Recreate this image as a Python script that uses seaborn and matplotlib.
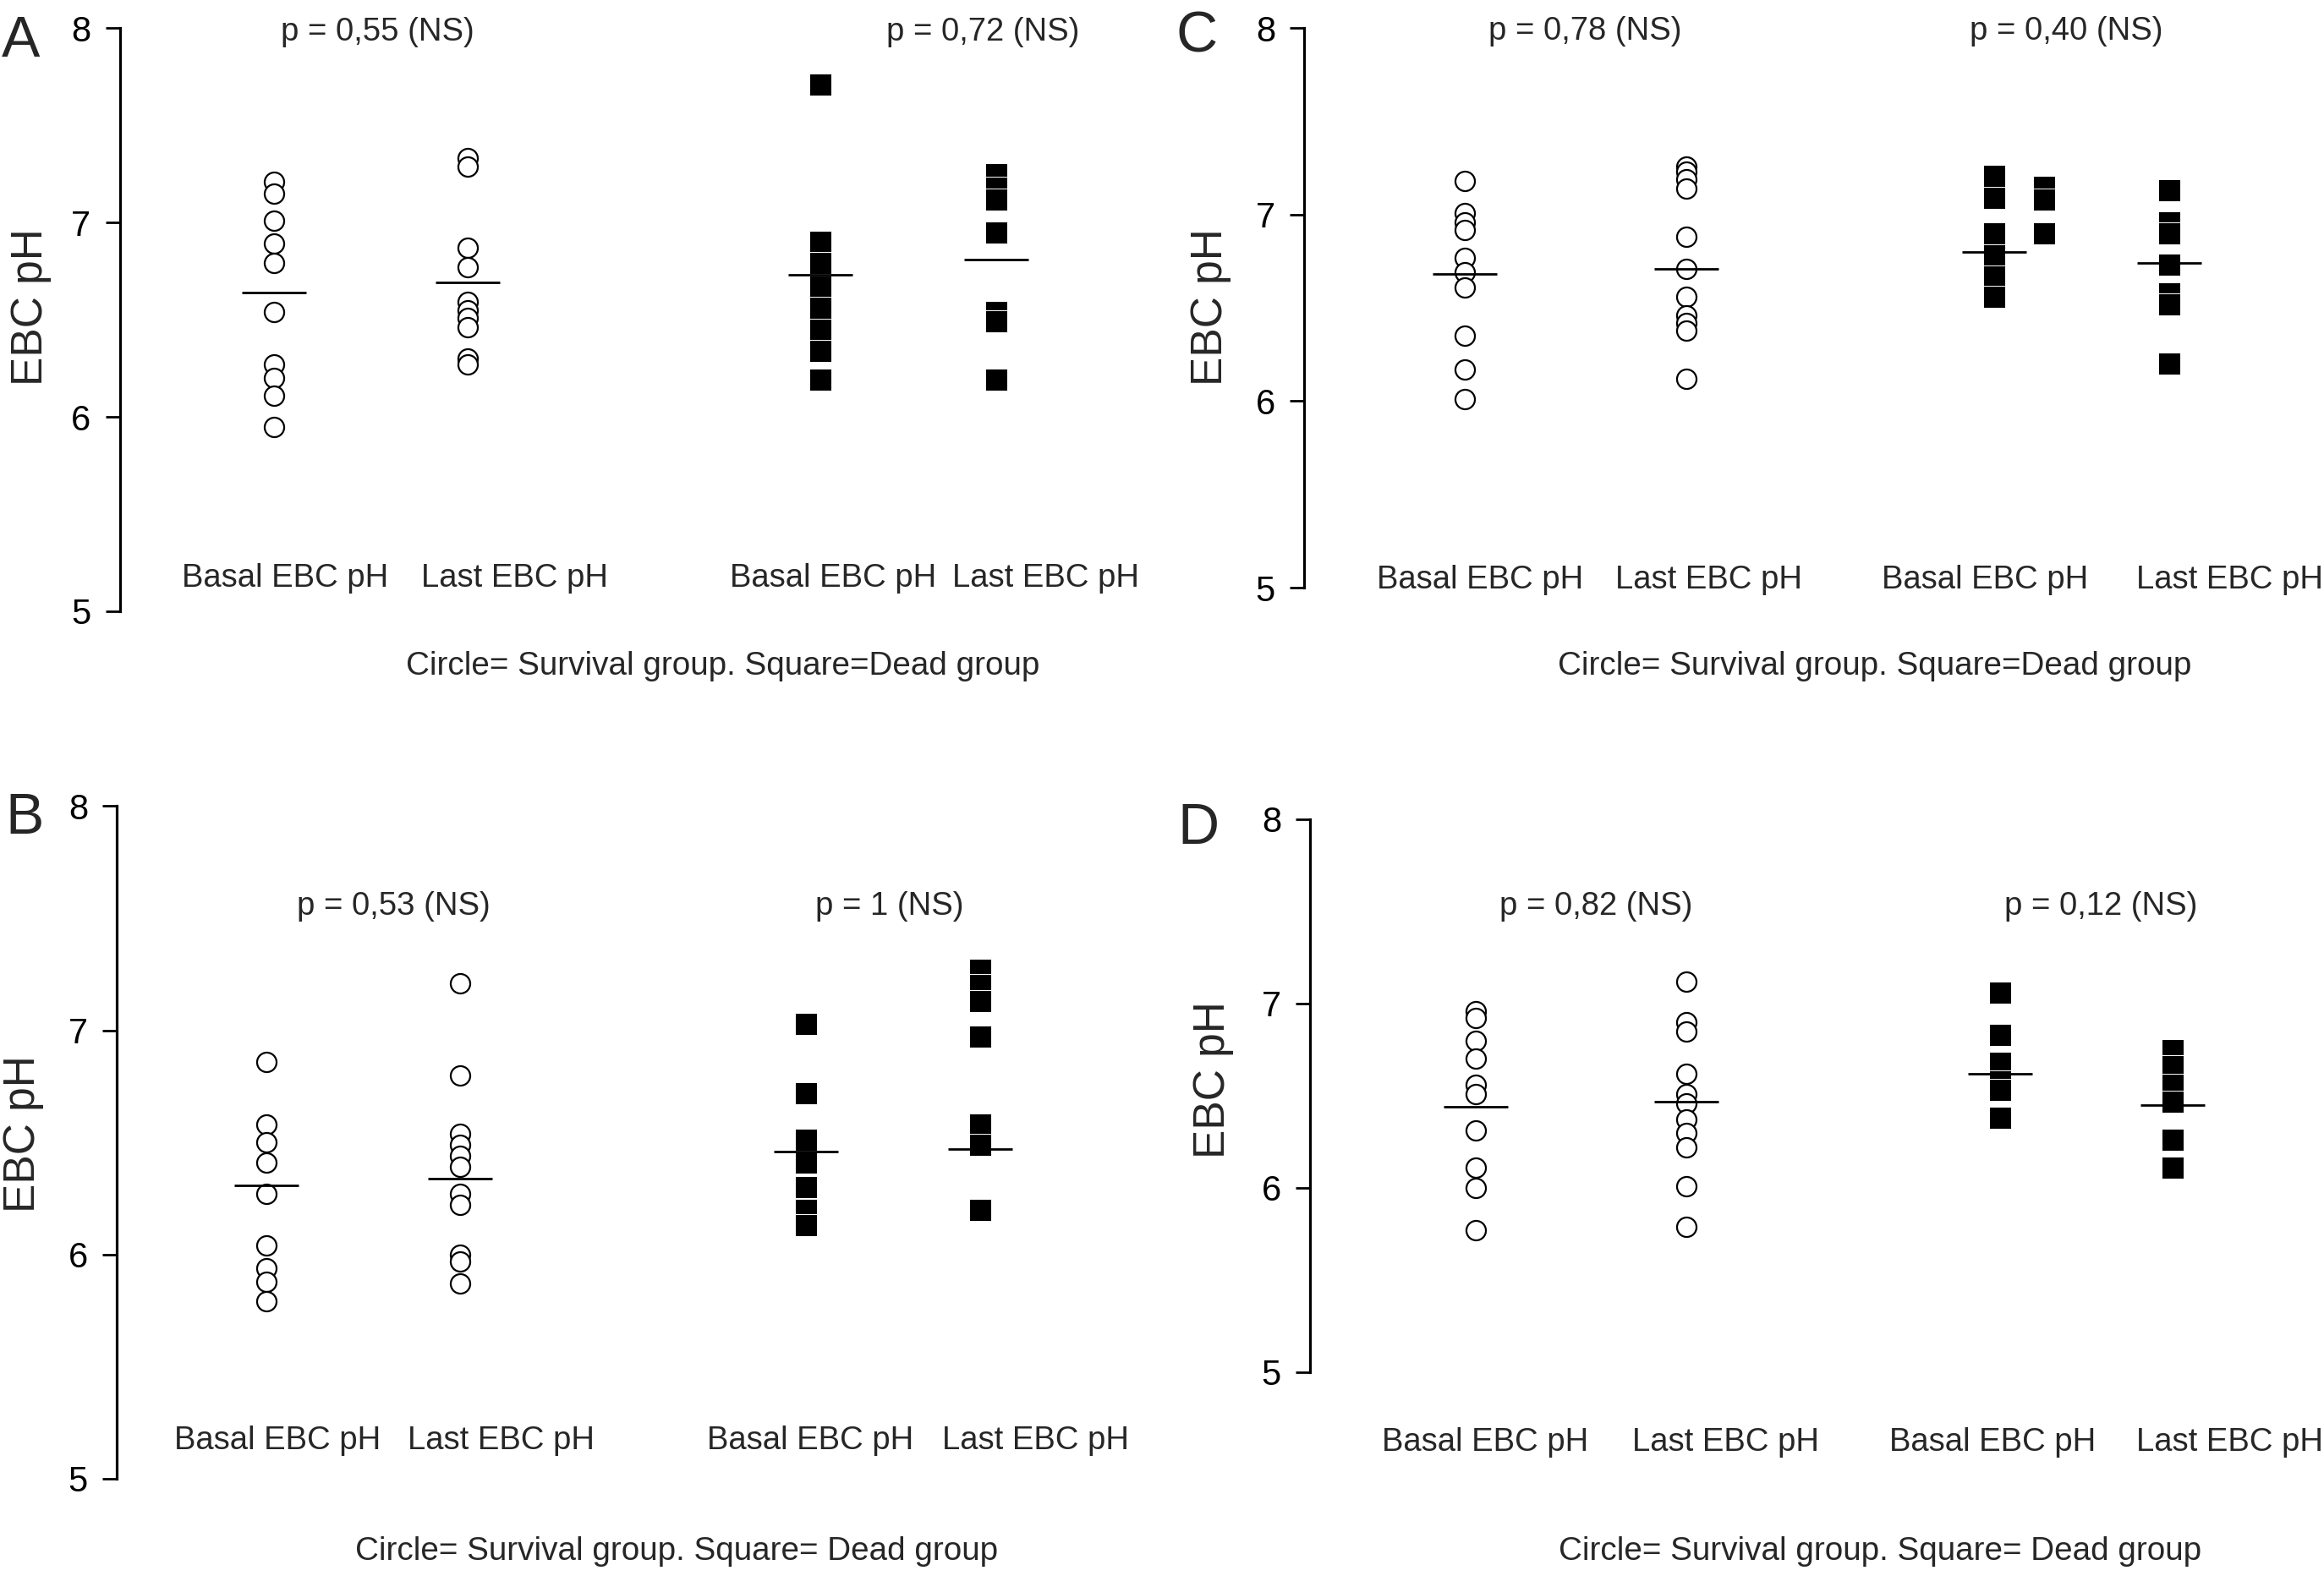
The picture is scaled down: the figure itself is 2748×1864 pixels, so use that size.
import pandas as pd
import matplotlib
matplotlib.use("Agg")
import matplotlib.pyplot as plt
import seaborn as sns

# EBC pH values (survival = circles, dead = squares)
A_surv_basal = [7.21, 7.15, 7.01, 6.89, 6.79, 6.54, 6.27, 6.20, 6.11, 5.95]
A_surv_last = [7.33, 7.29, 6.87, 6.77, 6.59, 6.55, 6.51, 6.46, 6.30, 6.27]
A_dead_basal = [7.71, 6.90, 6.79, 6.67, 6.56, 6.45, 6.34, 6.19]
A_dead_last = [7.25, 7.18, 7.12, 6.95, 6.54, 6.49, 6.19]
A_means = [6.64, 6.69, 6.73, 6.81]
A_pvalues = ["p = 0,55 (NS)", "p = 0,72 (NS)"]

B_surv_basal = [6.86, 6.58, 6.50, 6.41, 6.27, 6.04, 5.94, 5.88, 5.79]
B_surv_last = [7.21, 6.80, 6.54, 6.49, 6.44, 6.39, 6.27, 6.22, 6.00, 5.97, 5.87]
B_dead_basal = [7.03, 6.72, 6.51, 6.41, 6.30, 6.20, 6.13]
B_dead_last = [7.27, 7.20, 7.13, 6.97, 6.58, 6.49, 6.20]
B_means = [6.31, 6.34, 6.46, 6.47]
B_pvalues = ["p = 0,53 (NS)", "p = 1 (NS)"]

C_surv_basal = [7.18, 7.01, 6.96, 6.92, 6.77, 6.69, 6.61, 6.35, 6.17, 6.01]
C_surv_last = [7.26, 7.23, 7.19, 7.14, 6.88, 6.71, 6.56, 6.46, 6.42, 6.38, 6.12]
C_dead_basal = [7.21, 7.09, 6.90, 6.78, 6.67, 6.56]
C_dead_basal_side = [7.15, 7.08, 6.90]   # drawn in a second column next to the first
C_dead_last = [7.13, 6.96, 6.90, 6.73, 6.58, 6.52, 6.20]
C_means = [6.68, 6.71, 6.80, 6.74]
C_pvalues = ["p = 0,78 (NS)", "p = 0,40 (NS)"]

D_surv_basal = [6.96, 6.92, 6.80, 6.70, 6.56, 6.51, 6.31, 6.11, 6.00, 5.77]
D_surv_last = [7.12, 6.90, 6.85, 6.62, 6.51, 6.46, 6.37, 6.30, 6.22, 6.01, 5.79]
D_dead_basal = [7.06, 6.83, 6.68, 6.58, 6.53, 6.38]
D_dead_last = [6.75, 6.66, 6.56, 6.47, 6.26, 6.11]
D_means = [6.44, 6.47, 6.62, 6.45]
D_pvalues = ["p = 0,82 (NS)", "p = 0,12 (NS)"]

categories = ["Basal EBC pH", "Last EBC pH", "Basal EBC pH", "Last EBC pH"]
yticks = [5, 6, 7, 8]
footer_top = "Circle= Survival group. Square=Dead group"
footer_bottom = "Circle= Survival group. Square= Dead group"

data = {
    "A": dict(cols=[A_surv_basal, A_surv_last, A_dead_basal, A_dead_last], side=[], means=A_means, p=A_pvalues, footer=footer_top),
    "B": dict(cols=[B_surv_basal, B_surv_last, B_dead_basal, B_dead_last], side=[], means=B_means, p=B_pvalues, footer=footer_bottom),
    "C": dict(cols=[C_surv_basal, C_surv_last, C_dead_basal, C_dead_last], side=C_dead_basal_side, means=C_means, p=C_pvalues, footer=footer_top),
    "D": dict(cols=[D_surv_basal, D_surv_last, D_dead_basal, D_dead_last], side=[], means=D_means, p=D_pvalues, footer=footer_bottom),
}

# layout in output pixels
W, H = 2748, 1864
layout = {
    "A": dict(spine=141.5, y8=33.3, y5=723, right=1374, slot0=324, unit=229, slots=[0, 1, 2.82, 3.73],
              letter=(2, 66.7), ylab=(37, 363), p_xy=[(446, 38), (1162, 38)],
              cat_y=684, cat_x=[337, 609, 985, 1237], foot=(855, 788)),
    "C": dict(spine=1542, y8=33.3, y5=695, right=2748, slot0=1732, unit=262, slots=[0, 1, 2.39, 3.18],
              letter=(1390, 61), ylab=(1431, 363), p_xy=[(1874, 37), (2443, 37)],
              cat_y=686, cat_x=[1750, 2021, 2347, 2636], foot=(2217, 788)),
    "B": dict(spine=138, y8=953.3, y5=1749, right=1374, slot0=314.5, unit=229.5, slots=[0, 1, 2.78, 3.68],
              letter=(6, 986), ylab=(28, 1341), p_xy=[(465, 1072), (1052, 1072)],
              cat_y=1704, cat_x=[328, 593, 958, 1225], foot=(800, 1835)),
    "D": dict(spine=1549, y8=969, y5=1623, right=2748, slot0=1745, unit=249, slots=[0, 1, 2.49, 3.31],
              letter=(1392, 998), ylab=(1434, 1277), p_xy=[(1887, 1072), (2484, 1072)],
              cat_y=1706, cat_x=[1756, 2041, 2356, 2637], foot=(2223, 1835)),
}
side_offset_px = 59
mean_half_px = 38

sns.set_style("white")
plt.rcParams["font.family"] = ["Liberation Sans", "DejaVu Sans"]

fig = plt.figure(figsize=(W / 100, H / 100), dpi=100)


def fx(px):
    return px / W


def fy(py):
    return 1 - py / H


for name, d in data.items():
    lay = layout[name]
    ax = fig.add_axes([fx(lay["spine"]), fy(lay["y5"]),
                       (lay["right"] - lay["spine"]) / W, (lay["y5"] - lay["y8"]) / H])
    ax.patch.set_alpha(0)

    # long table of points
    rows = []
    for i, vals in enumerate(d["cols"]):
        for v in vals:
            rows.append({"group": "Survival" if i < 2 else "Dead", "x": lay["slots"][i], "ph": v})
    for v in d["side"]:
        rows.append({"group": "Dead", "x": lay["slots"][2] + side_offset_px / lay["unit"], "ph": v})
    df = pd.DataFrame(rows)

    sns.scatterplot(data=df[df["group"] == "Survival"], x="x", y="ph", marker="o", s=275,
                    facecolor="white", edgecolor="black", linewidth=1.6, legend=False,
                    ax=ax, zorder=3, clip_on=False)
    sns.scatterplot(data=df[df["group"] == "Dead"], x="x", y="ph", marker="s", s=345,
                    color="black", edgecolor="white", linewidth=0.7, legend=False,
                    ax=ax, zorder=3, clip_on=False)

    hw = mean_half_px / lay["unit"]
    for pos, m in zip(lay["slots"], d["means"]):
        ax.hlines(m, pos - hw, pos + hw, color="black", linewidth=2.0, zorder=4)

    left = (lay["spine"] - lay["slot0"]) / lay["unit"]
    right = (lay["right"] - lay["slot0"]) / lay["unit"]
    ax.set_xlim(left, right)
    ax.set_ylim(5, 8)
    ax.set_xticks([])
    ax.set_yticks(yticks)
    ax.set_yticklabels([str(t) for t in yticks], fontsize=30)
    ax.set_xlabel("")
    ax.set_ylabel("")
    sns.despine(ax=ax, bottom=True)
    ax.spines["left"].set_linewidth(2.3)
    ax.spines["left"].set_color("black")
    ax.tick_params(axis="y", left=True, length=12.5, width=2.0, pad=12, color="black", labelcolor="black")

    # texts
    fig.text(fx(lay["letter"][0]), fy(lay["letter"][1]), name, ha="left", va="baseline", fontsize=49)
    fig.text(fx(lay["ylab"][0]), fy(lay["ylab"][1]), "EBC pH", rotation=90, ha="center", va="center", fontsize=37)
    for (px, py), txt in zip(lay["p_xy"], d["p"]):
        fig.text(fx(px), fy(py), txt, ha="center", va="center", fontsize=27.5)
    for cx, txt in zip(lay["cat_x"], categories):
        fig.text(fx(cx), fy(lay["cat_y"]), txt, ha="center", va="center", fontsize=27.5)
    fig.text(fx(lay["foot"][0]), fy(lay["foot"][1]), d["footer"], ha="center", va="center", fontsize=27.8)

fig.savefig("out.png", dpi=100, facecolor="white")
